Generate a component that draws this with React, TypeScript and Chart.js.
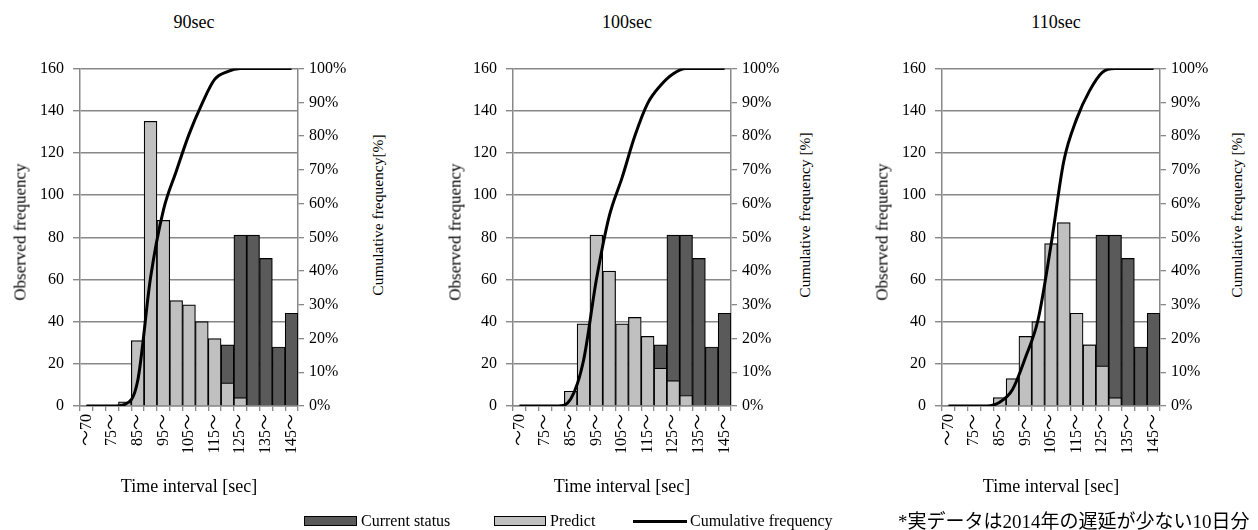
import React, { useEffect, useRef } from "react";
import { Chart, registerables } from "chart.js";

Chart.register(...registerables);

const categories = ["～70", "70～", "75～", "80～", "85～", "90～", "95～", "100～", "105～", "110～", "115～", "120～", "125～", "130～", "135～", "140～", "145～"];
const currentStatus = [0, 0, 0, 0, 0, 0, 0, 0, 0, 0, 0, 29, 81, 81, 70, 28, 44];
const predict90 = [0, 0, 0, 2, 31, 135, 88, 50, 48, 40, 32, 11, 4, 0, 0, 0, 0];
const predict100 = [0, 0, 0, 0, 7, 39, 81, 64, 39, 42, 33, 18, 12, 5, 0, 0, 0];
const predict110 = [0, 0, 0, 0, 4, 13, 33, 40, 77, 87, 44, 29, 19, 4, 0, 0, 0];
const cumulative90 = [0, 0, 0, 0.5, 7.5, 38, 58, 69.5, 80.5, 89.5, 96.8, 99.1, 100, 100, 100, 100, 100];
const cumulative100 = [0, 0, 0, 0, 2.1, 13.5, 37.4, 56.2, 67.6, 80, 89.7, 95, 98.5, 100, 100, 100, 100];
const cumulative110 = [0, 0, 0, 0, 1.1, 4.9, 14.3, 25.7, 47.7, 72.6, 85.1, 93.4, 98.9, 100, 100, 100, 100];
const chartTitles = ["90sec", "100sec", "110sec"];
const rightTitles = ["Cumulative frequency[%]", "Cumulative frequency [%]", "Cumulative frequency [%]"];

const FONT = "'Liberation Serif', 'Noto Sans CJK JP', serif";
const GRID = "#888888";

const PLOT_W = 218;
const LEFT_W = 80;
const RIGHT_W = 62;
const TOP_PAD = 17;
const BOTTOM_H = 64;
const CANVAS_TOP = 50;
const PLOT_BOTTOM = 406;
const CANVAS_H = PLOT_BOTTOM - CANVAS_TOP + BOTTOM_H + 10;
const CANVAS_W = LEFT_W + PLOT_W + RIGHT_W;

const plotLefts = [80, 513, 942];
const rightTitleX = [378, 805, 1237];
const leftTitleX = [20, 455, 882];

function nz(a: number[]) {
  return a.map((v) => (v === 0 ? null : v));
}

function ChartPanel({ predict, cumulative }: { predict: number[]; cumulative: number[] }) {
  const ref = useRef<HTMLCanvasElement | null>(null);
  useEffect(() => {
    if (!ref.current) return;
    const tickFont = { family: FONT, size: 16 };
    const chart = new Chart(ref.current, {
      type: "bar",
      data: {
        labels: categories,
        datasets: [
          {
            type: "line",
            label: "Cumulative frequency",
            data: cumulative,
            yAxisID: "y2",
            borderColor: "#000",
            borderWidth: 3,
            pointRadius: 0,
            cubicInterpolationMode: "monotone",
            fill: false,
            order: 0,
          } as any,
          {
            type: "bar",
            label: "Predict",
            data: nz(predict),
            yAxisID: "y",
            backgroundColor: "#c0c0c0",
            borderColor: "#000",
            borderWidth: 1.2,
            barPercentage: 1,
            categoryPercentage: 1,
            grouped: false,
            order: 1,
          },
          {
            type: "bar",
            label: "Current status",
            data: nz(currentStatus),
            yAxisID: "y",
            backgroundColor: "#5a5a5a",
            borderColor: "#000",
            borderWidth: 1.2,
            barPercentage: 1,
            categoryPercentage: 1,
            grouped: false,
            order: 2,
          },
        ],
      },
      options: {
        animation: false,
        responsive: false,
        devicePixelRatio: 1,
        layout: { padding: { top: TOP_PAD, left: 0, right: 0, bottom: 10 } },
        plugins: { legend: { display: false }, tooltip: { enabled: false }, title: { display: false } },
        scales: {
          x: {
            type: "category",
            offset: true,
            grid: { display: true, drawOnChartArea: false, drawTicks: true, tickLength: 5, color: GRID, lineWidth: 1.3, offset: true },
            border: { display: true, color: GRID, width: 1.5 },
            ticks: {
              autoSkip: false,
              maxRotation: 90,
              minRotation: 90,
              padding: 3,
              color: "#000",
              font: tickFont,
              callback: (_v: any, i: number) => (i % 2 === 0 ? categories[i] : ""),
            },
            afterFit: (s: any) => {
              s.height = BOTTOM_H;
            },
          },
          y: {
            type: "linear",
            position: "left",
            min: 0,
            max: 160,
            ticks: { stepSize: 20, color: "#000", font: tickFont, padding: 9 },
            grid: { color: GRID, lineWidth: 1.4, tickLength: 7 },
            border: { display: true, color: GRID, width: 1.5 },
            afterFit: (s: any) => {
              s.width = LEFT_W;
            },
          },
          y2: {
            type: "linear",
            position: "right",
            min: 0,
            max: 100,
            ticks: { stepSize: 10, color: "#000", font: tickFont, padding: 5, callback: (v: any) => v + "%" },
            grid: { drawOnChartArea: false, color: GRID, lineWidth: 1.3, tickLength: 6 },
            border: { display: true, color: GRID, width: 1.5 },
            afterFit: (s: any) => {
              s.width = RIGHT_W;
            },
          },
        },
      } as any,
    });
    return () => chart.destroy();
  }, [predict, cumulative]);
  return <canvas ref={ref} width={CANVAS_W} height={CANVAS_H} style={{ width: CANVAS_W, height: CANVAS_H, display: "block" }} />;
}

const textBase: React.CSSProperties = {
  position: "absolute",
  fontFamily: FONT,
  fontSize: 16,
  color: "#000",
  whiteSpace: "nowrap",
  lineHeight: 1,
};

export default function App() {
  const predicts = [predict90, predict100, predict110];
  const cumulatives = [cumulative90, cumulative100, cumulative110];
  return (
    <div style={{ position: "absolute", left: 0, top: 0, width: 1258, height: 530, background: "#fff", overflow: "hidden" }}>
      {[0, 1, 2].map((i) => {
        const cx = plotLefts[i] + PLOT_W / 2;
        return (
          <React.Fragment key={i}>
            <div style={{ position: "absolute", left: plotLefts[i] - LEFT_W, top: CANVAS_TOP }}>
              <ChartPanel predict={predicts[i]} cumulative={cumulatives[i]} />
            </div>
            <div style={{ ...textBase, fontSize: 18, left: cx + 5, top: 22, transform: "translate(-50%,-50%)" }}>{chartTitles[i]}</div>
            <div style={{ ...textBase, fontSize: 17, left: leftTitleX[i], top: 232, transform: "translate(-50%,-50%) rotate(-90deg)" }}>Observed frequency</div>
            <div style={{ ...textBase, fontSize: 15.5, left: rightTitleX[i], top: 215, transform: "translate(-50%,-50%) rotate(-90deg)" }}>{rightTitles[i]}</div>
            <div style={{ ...textBase, fontSize: 18, left: cx, top: 486, transform: "translate(-50%,-50%)" }}>Time interval [sec]</div>
          </React.Fragment>
        );
      })}
      <div style={{ position: "absolute", left: 304, top: 516, width: 53, height: 10, background: "#5a5a5a", border: "1px solid #000", boxSizing: "border-box" }} />
      <div style={{ ...textBase, left: 361, top: 521, transform: "translateY(-50%)" }}>Current status</div>
      <div style={{ position: "absolute", left: 494, top: 516, width: 52, height: 10, background: "#c0c0c0", border: "1px solid #000", boxSizing: "border-box" }} />
      <div style={{ ...textBase, left: 550, top: 521, transform: "translateY(-50%)" }}>Predict</div>
      <div style={{ position: "absolute", left: 633, top: 519.5, width: 54, height: 3, background: "#000" }} />
      <div style={{ ...textBase, left: 690, top: 521, transform: "translateY(-50%)" }}>Cumulative frequency</div>
      <div style={{ ...textBase, left: 898, top: 521, transform: "translateY(-50%)", fontSize: 19 }}>*実データは2014年の遅延が少ない10日分</div>
    </div>
  );
}
